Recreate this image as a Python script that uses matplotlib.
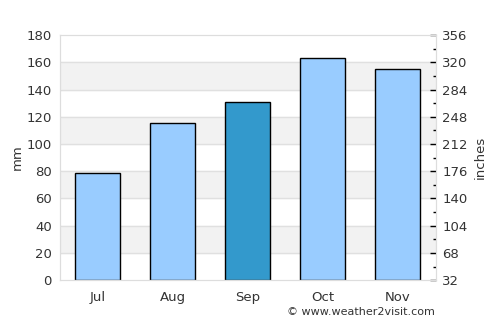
import matplotlib

matplotlib.use("Agg")
import matplotlib.pyplot as plt
import numpy as np

months = ["Jul", "Aug", "Sep", "Oct", "Nov"]
rain_mm = [78.4, 115.3, 130.8, 163, 155]
highlight = "Sep"
right_ticks = list(range(32, 357, 36))
right_minor = list(range(50, 357, 36))

LIGHT = "#99ccff"
DARK = "#3399cc"
TXT = "#333333"

fig = plt.figure(figsize=(5, 3.25), dpi=100)
ax = fig.add_axes([0.12, 0.138, 0.751, 0.754])

x = np.arange(len(months))
cols = [DARK if m == highlight else LIGHT for m in months]

# alternating bands + grid
for lo in range(20, 180, 40):
    ax.axhspan(lo, lo + 20, color="#f2f2f2", zorder=0)
for y in range(20, 180, 20):
    ax.axhline(y, color="#e0e0e0", linewidth=1, zorder=0.5)

ax.bar(x, rain_mm, width=0.6, color=cols, edgecolor="black", linewidth=1, zorder=2)

ax.set_xlim(-0.5, len(months) - 0.5)
ax.set_ylim(0, 180)
ax.set_yticks(range(0, 181, 20))
ax.set_xticks(x)
ax.set_xticklabels(months)
ax.tick_params(axis="both", length=0, labelsize=9.5, labelcolor=TXT, pad=8)
ax.tick_params(axis="y", pad=6)
ax.set_ylabel("mm", fontsize=9.5, color=TXT, labelpad=2)
for s in ax.spines.values():
    s.set_color("#dddddd")

ax2 = ax.twinx()
ax2.set_ylim(32, 356)
ax2.set_yticks(right_ticks)
ax2.set_yticks(right_minor, minor=True)
ax2.tick_params(axis="y", which="major", direction="in", length=4, width=1,
                color="black", labelsize=9.5, labelcolor=TXT, pad=5)
ax2.tick_params(axis="y", which="minor", direction="in", length=2.5, width=1,
                color="black")
ax2.set_ylabel("inches", fontsize=9.5, color=TXT, labelpad=4)
for s in ax2.spines.values():
    s.set_color("#dddddd")

fig.text(0.87, 0.025, "© www.weather2visit.com", ha="right", va="bottom",
         fontsize=8, color=TXT)

fig.savefig("out.png", dpi=100)
